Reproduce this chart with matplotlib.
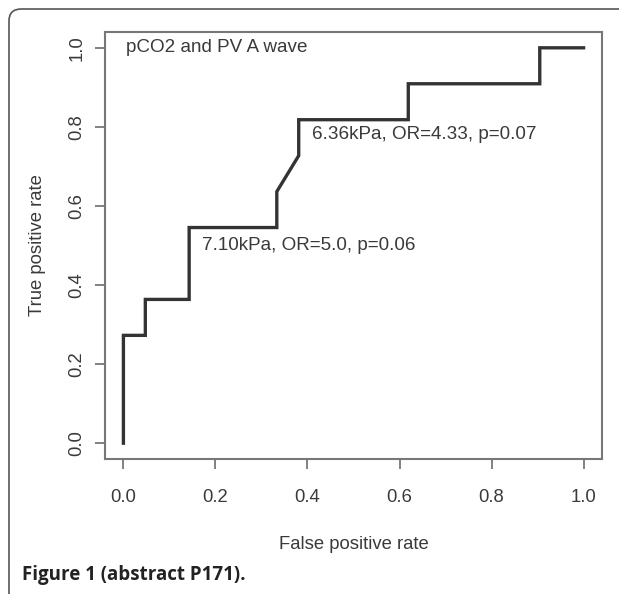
import numpy as np
import matplotlib
matplotlib.use("Agg")
import matplotlib.pyplot as plt
from matplotlib.patches import FancyBboxPatch

# ROC curve points (false positive rate, true positive rate)
fpr = [0.0, 0.0, 1/21, 1/21, 3/21, 3/21, 7/21, 7/21, 8/21, 8/21, 13/21, 13/21, 19/21, 19/21, 1.0]
tpr = [0.0, 3/11, 3/11, 4/11, 4/11, 6/11, 6/11, 7/11, 8/11, 9/11, 9/11, 10/11, 10/11, 1.0, 1.0]

ticks = [0.0, 0.2, 0.4, 0.6, 0.8, 1.0]
tick_labels = ["0.0", "0.2", "0.4", "0.6", "0.8", "1.0"]

title_txt = "pCO2 and PV A wave"
notes = ["6.36kPa, OR=4.33, p=0.07", "7.10kPa, OR=5.0, p=0.06"]
note_xy = [(0.41, 0.78), (0.17, 0.50)]

plt.rcParams['font.family'] = ['Liberation Sans', 'DejaVu Sans']

W, H = 619, 594
fig = plt.figure(figsize=(W/100, H/100), dpi=100)

# outer rounded border of the figure panel
box = FancyBboxPatch((9/W, -20/H), (W + 30)/W, (H - 9 + 20)/H,
                     boxstyle="round,pad=0,rounding_size=0.02",
                     transform=fig.transFigure, fill=False,
                     edgecolor="#555555", linewidth=1.2, clip_on=False)
fig.patches.append(box)

ax = fig.add_axes([105/W, 1 - 459/H, (602 - 105)/W, (459 - 32)/H])
ax.plot(fpr, tpr, color="#333333", linewidth=2.4, solid_joinstyle="miter")

ax.set_xlim(-0.04, 1.04)
ax.set_ylim(-0.04, 1.04)
ax.set_xticks(ticks)
ax.set_xticklabels(tick_labels)
ax.set_yticks(ticks)
ax.set_yticklabels(tick_labels, rotation=90, va="center")

for s in ax.spines.values():
    s.set_color("#777777")
    s.set_linewidth(1.5)
ax.tick_params(direction="out", length=7.5, width=1.3, color="#777777",
               labelsize=13.3, labelcolor="#3a3a3a")
ax.tick_params(axis="x", pad=14)
ax.tick_params(axis="y", pad=6.5)

ax.set_xlabel("False positive rate", fontsize=13.3, color="#3a3a3a", labelpad=22)
ax.set_ylabel("True positive rate", fontsize=13.3, color="#3a3a3a", labelpad=16)

ax.text(0.005, 1.0, title_txt, fontsize=13.6, color="#3a3a3a", va="center", ha="left")
for t, (x, y) in zip(notes, note_xy):
    ax.text(x, y, t, fontsize=13.6, color="#3a3a3a", va="center", ha="left")

fig.text(22/W, 1 - 575/H, "Figure 1 (abstract P171).", fontsize=13.5,
         fontweight="bold", family=["Open Sans", "DejaVu Sans"],
         color="#222222", va="center", ha="left")

fig.savefig("out.png", dpi=100)
